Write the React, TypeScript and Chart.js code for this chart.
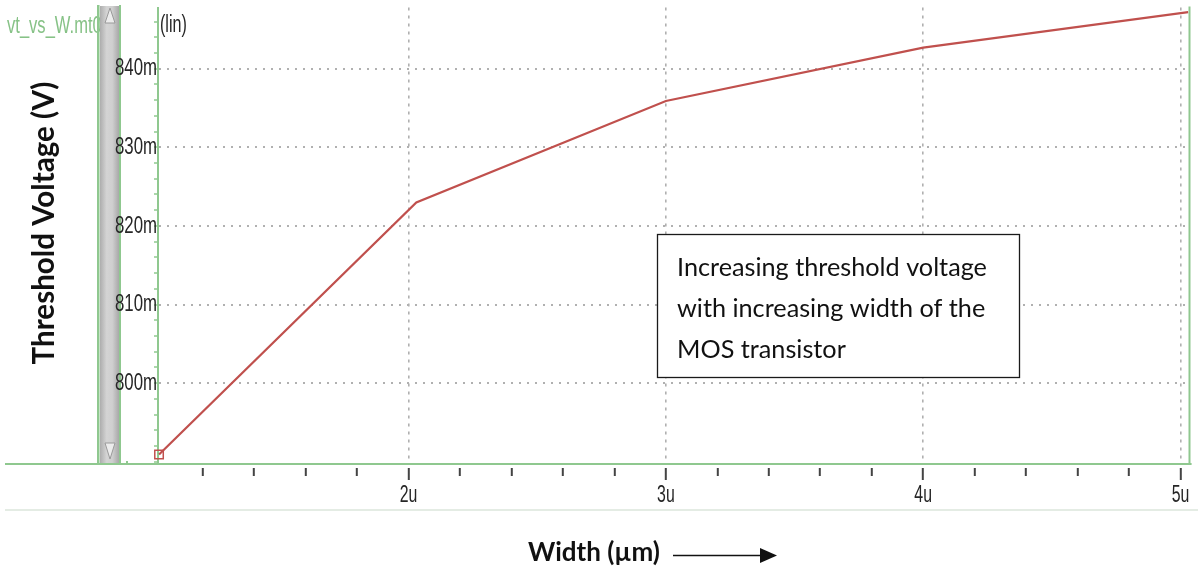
import React, { useEffect, useRef } from 'react';
import { Chart, registerables, LinearScale } from 'chart.js';

Chart.register(...registerables);

// ---- data ----
const widthUm = [1.03, 2.03, 3.0, 4.0, 5.03];
const thresholdMv = [790.9, 823.0, 835.9, 842.7, 847.2];

const xMajorTicks = [2, 3, 4, 5];
const xTickLabels = ['2u', '3u', '4u', '5u'];
const xMinorTicks = [1.2, 1.4, 1.6, 1.8, 2.2, 2.4, 2.6, 2.8, 3.2, 3.4, 3.6, 3.8, 4.2, 4.4, 4.6, 4.8];

const yMajorTicks = [800, 810, 820, 830, 840];
const yTickLabels = ['800m', '810m', '820m', '830m', '840m'];
const yMinorTicks = [790, 792, 794, 796, 798, 802, 804, 806, 808, 812, 814, 816, 818, 822, 824, 826, 828, 832, 834, 836, 838, 842, 844, 846];

const X_MIN = 1.026;
const X_MAX = 5.039;
const Y_MIN = 789.7;
const Y_MAX = 847.8;

const fileTitle = 'vt_vs_W.mt0';
const scaleTag = '(lin)';
const yAxisTitle = 'Threshold Voltage (V)';
const xAxisTitle = 'Width (µm)';
const noteLines = ['Increasing threshold voltage', 'with increasing width of the', 'MOS transistor'];

// ---- styles ----
const GREEN = '#8fc88f';
const GRID = '#b0b0b0';
const LINE = '#c0504d';
const SANS = '"Liberation Sans", Arimo, Arial, sans-serif';
const BODY = 'Lato, "Open Sans", sans-serif';
const LABEL_SQUEEZE: Record<string, number> = { x: 0.66, y: 0.7 };
const PLOT_RIGHT = 1196;

const near = (a: number, b: number) => Math.abs(a - b) < 1e-6;
const isMajorX = (v: any) => typeof v === 'number' && xMajorTicks.some((m) => near(m, v));
const isMajorY = (v: any) => typeof v === 'number' && yMajorTicks.some((m) => near(m, v));

// Linear scale whose tick labels are drawn horizontally condensed (narrow font look)
class NarrowLinearScale extends (LinearScale as any) {
  static id = 'narrowLinear';
  static defaults = (LinearScale as any).defaults;
  drawLabels(chartArea: any) {
    const self: any = this;
    if (!self.options.ticks.display) return;
    const ctx: CanvasRenderingContext2D = self.ctx;
    const sx = LABEL_SQUEEZE[self.id] ?? 1;
    const items = self.getLabelItems(chartArea);
    for (const item of items) {
      const o = item.options;
      const lines = Array.isArray(item.label) ? item.label : [item.label];
      ctx.save();
      ctx.font = item.font.string;
      ctx.translate(o.translation[0], o.translation[1]);
      if (o.rotation) ctx.rotate(o.rotation);
      ctx.scale(sx, 1);
      ctx.fillStyle = o.color;
      ctx.textAlign = o.textAlign;
      ctx.textBaseline = o.textBaseline;
      lines.forEach((l: string, i: number) => ctx.fillText(String(l), 0, item.textOffset + i * item.font.lineHeight));
      ctx.restore();
    }
  }
}
Chart.register(NarrowLinearScale as any);

function fitFont(ctx: CanvasRenderingContext2D, text: string, weight: string, family: string, targetW: number) {
  ctx.font = `${weight} 20px ${family}`;
  const w = ctx.measureText(text).width;
  const size = (20 * targetW) / w;
  ctx.font = `${weight} ${size.toFixed(2)}px ${family}`;
  return size;
}

function squeezedText(ctx: CanvasRenderingContext2D, text: string, x: number, y: number, sx: number) {
  ctx.save();
  ctx.translate(x, y);
  ctx.scale(sx, 1);
  ctx.fillText(text, 0, 0);
  ctx.restore();
}

const decor = {
  id: 'decor',
  beforeDraw(chart: any) {
    const { ctx, width, height, chartArea } = chart;
    const { bottom } = chartArea;
    ctx.save();
    ctx.fillStyle = '#ffffff';
    ctx.fillRect(0, 0, width, height);

    // file title (partly hidden by the scrollbar)
    ctx.fillStyle = '#86c286';
    ctx.font = `23px ${SANS}`;
    ctx.textBaseline = 'alphabetic';
    ctx.textAlign = 'left';
    squeezedText(ctx, fileTitle, 7, 33, 0.72);

    // scrollbar
    ctx.fillStyle = GREEN;
    ctx.fillRect(97, 5, 2.5, bottom - 5);
    const g = ctx.createLinearGradient(100, 0, 119, 0);
    g.addColorStop(0, '#adadad');
    g.addColorStop(0.35, '#d4d4d4');
    g.addColorStop(0.65, '#cfcfcf');
    g.addColorStop(1, '#a8a8a8');
    ctx.fillStyle = g;
    ctx.fillRect(100, 6, 19, bottom - 7);
    ctx.fillStyle = GREEN;
    ctx.fillRect(119, 5, 2, bottom - 5);
    ctx.fillStyle = '#ececec';
    ctx.strokeStyle = '#9a9a9a';
    ctx.lineWidth = 1;
    ctx.beginPath();
    ctx.moveTo(105, 23);
    ctx.lineTo(115, 23);
    ctx.lineTo(110, 8);
    ctx.closePath();
    ctx.fill();
    ctx.stroke();
    ctx.beginPath();
    ctx.moveTo(105, 443);
    ctx.lineTo(115, 443);
    ctx.lineTo(110, 459);
    ctx.closePath();
    ctx.fill();
    ctx.stroke();
    ctx.fillStyle = GREEN;
    ctx.fillRect(126, bottom - 3, 2, 2);
    ctx.restore();
  },
  afterDraw(chart: any) {
    const { ctx, chartArea } = chart;
    const { left, right, top, bottom } = chartArea;
    ctx.save();

    // extended x axis line and right frame
    ctx.fillStyle = GREEN;
    ctx.fillRect(5, bottom - 1, left - 5, 2);
    ctx.fillRect(right - 2, top - 1, 2, bottom - top + 2);

    // separator under the tick labels
    ctx.fillStyle = '#e4ece4';
    ctx.fillRect(5, 509, 1193, 2);

    // (lin)
    ctx.fillStyle = '#262626';
    ctx.font = `23px ${SANS}`;
    ctx.textAlign = 'left';
    ctx.textBaseline = 'alphabetic';
    squeezedText(ctx, scaleTag, 160, 32, 0.7);

    // y axis title
    ctx.save();
    ctx.translate(54, 223);
    ctx.rotate(-Math.PI / 2);
    ctx.fillStyle = '#111111';
    fitFont(ctx, yAxisTitle, 'bold', BODY, 283);
    ctx.textAlign = 'center';
    ctx.textBaseline = 'alphabetic';
    ctx.fillText(yAxisTitle, 0, 0);
    ctx.restore();

    // x axis title and arrow
    ctx.fillStyle = '#111111';
    fitFont(ctx, xAxisTitle, 'bold', BODY, 132);
    ctx.textAlign = 'left';
    ctx.textBaseline = 'alphabetic';
    ctx.fillText(xAxisTitle, 528, 561);
    ctx.strokeStyle = '#111111';
    ctx.lineWidth = 1.6;
    ctx.beginPath();
    ctx.moveTo(673, 555.5);
    ctx.lineTo(762, 555.5);
    ctx.stroke();
    ctx.beginPath();
    ctx.moveTo(760, 548);
    ctx.lineTo(777, 555.5);
    ctx.lineTo(760, 563);
    ctx.closePath();
    ctx.fill();

    // annotation box
    ctx.fillStyle = '#ffffff';
    ctx.fillRect(657, 234, 363, 144);
    ctx.strokeStyle = '#1a1a1a';
    ctx.lineWidth = 1.3;
    ctx.strokeRect(657.5, 234.5, 362, 143);
    ctx.fillStyle = '#111111';
    fitFont(ctx, noteLines[0], 'normal', BODY, 310);
    ctx.textAlign = 'left';
    const baselines = [276, 317, 358];
    noteLines.forEach((t, i) => ctx.fillText(t, 677, baselines[i]));

    ctx.restore();
  },
};

export default function App() {
  const ref = useRef<HTMLCanvasElement>(null);

  useEffect(() => {
    document.body.style.margin = '0';
    const canvas = ref.current!;
    const chart = new Chart(canvas, {
      type: 'line',
      data: {
        datasets: [
          {
            data: widthUm.map((x, i) => ({ x, y: thresholdMv[i] })),
            borderColor: LINE,
            borderWidth: 2.2,
            tension: 0,
            pointStyle: 'rect',
            pointRadius: widthUm.map((_, i) => (i === 0 ? 6 : 0)),
            pointBorderColor: LINE,
            pointBorderWidth: 1.5,
            pointBackgroundColor: 'rgba(0,0,0,0)',
            clip: false as any,
          },
        ],
      },
      options: {
        responsive: false,
        animation: false,
        devicePixelRatio: 1,
        layout: { padding: { left: 118, right: 2, top: 6, bottom: 60 } },
        plugins: {
          legend: { display: false },
          tooltip: { enabled: false },
          title: { display: false },
        },
        scales: {
          x: {
            type: 'narrowLinear' as any,
            position: 'bottom',
            min: X_MIN,
            max: X_MAX,
            afterBuildTicks: (s: any) => {
              s.ticks = [...xMinorTicks, ...xMajorTicks].sort((a, b) => a - b).map((v) => ({ value: v }));
            },
            afterFit: (s: any) => {
              s.height = 45;
              s.paddingLeft = 0;
              s.paddingRight = 0;
            },
            ticks: {
              autoSkip: false,
              maxRotation: 0,
              padding: 1,
              color: '#262626',
              font: { family: SANS, size: 24 },
              callback: (v: any) => {
                const i = xMajorTicks.findIndex((m) => near(m, Number(v)));
                return i >= 0 ? xTickLabels[i] : '';
              },
            },
            grid: {
              color: (c: any) => (isMajorX(c.tick?.value) ? GRID : 'rgba(0,0,0,0)'),
              lineWidth: 1.6,
              tickLength: 16,
              tickColor: '#444444',
              tickWidth: 2,
              tickBorderDash: (c: any) => (isMajorX(c.tick?.value) ? [0, 3, 13, 60] : [0, 3, 8, 60]),
            } as any,
            border: { display: true, color: GREEN, width: 2, dash: [3, 5] },
          } as any,
          y: {
            type: 'narrowLinear' as any,
            position: 'left',
            min: Y_MIN,
            max: Y_MAX,
            afterBuildTicks: (s: any) => {
              s.ticks = [...yMinorTicks, ...yMajorTicks].sort((a, b) => a - b).map((v) => ({ value: v }));
            },
            afterFit: (s: any) => {
              s.width = 40;
              s.paddingTop = 0;
              s.paddingBottom = 0;
            },
            ticks: {
              autoSkip: false,
              padding: -3,
              color: '#262626',
              font: { family: SANS, size: 24 },
              callback: (v: any) => {
                const i = yMajorTicks.findIndex((m) => near(m, Number(v)));
                return i >= 0 ? yTickLabels[i] : '';
              },
            },
            grid: {
              color: (c: any) => (isMajorY(c.tick?.value) ? GRID : 'rgba(0,0,0,0)'),
              lineWidth: 2,
              tickLength: 4,
              tickColor: GREEN,
              tickWidth: 1.5,
            } as any,
            border: { display: true, color: GREEN, width: 2, dash: [2, 6] },
          } as any,
        },
      },
      plugins: [decor],
    });
    // if the layout left the plot short of the target right edge, widen it once
    const gap = PLOT_RIGHT - chart.chartArea.right;
    if (Math.abs(gap) > 0.5) {
      (chart.options.layout as any).padding.right = 2 - gap;
      chart.update('none');
    }
    return () => chart.destroy();
  }, []);

  return (
    <div style={{ width: 1198, height: 569 }}>
      <canvas ref={ref} width={1198} height={569} style={{ display: 'block' }} />
    </div>
  );
}
